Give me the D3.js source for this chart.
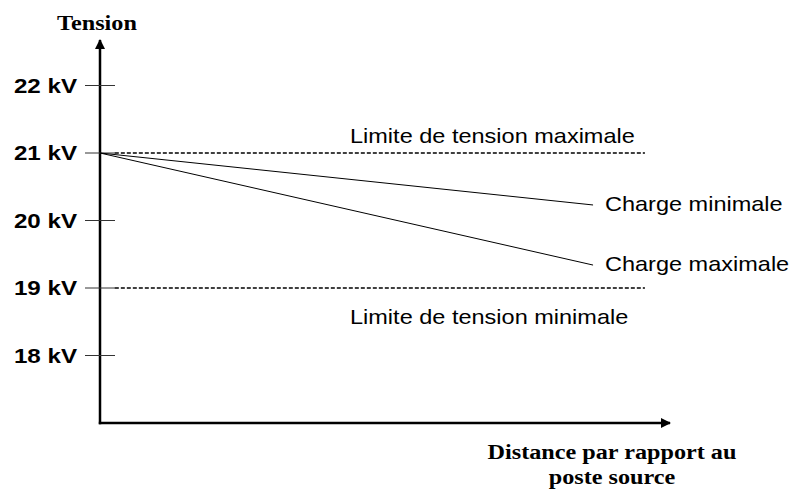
<!DOCTYPE html>
<html lang="fr">
<head>
<meta charset="utf-8">
<script src="https://d3js.org/d3.v7.min.js"></script>
<style>
  body { margin: 0; background: #fff; }
</style>
</head>
<body>
<script>
    // tension values (kV) shown on the vertical axis
    const tickValues = [18, 19, 20, 21, 22];
    const tickLabels = ["18 kV", "19 kV", "20 kV", "21 kV", "22 kV"];

    // limits (dashed lines)
    const limitNames = ["Limite de tension maximale", "Limite de tension minimale"];
    const limitValues = [21, 19];
    const limitStart = 2.6, limitEnd = 95.6;

    // voltage drop along the feeder (distance in % of drawn axis)
    const seriesNames = ["Charge minimale", "Charge maximale"];
    const distance = [0, 86.5];
    const chargeMin = [21, 20.23];
    const chargeMax = [21, 19.34];

    const width = 792, height = 490;
    const svg = d3.select("body").append("svg")
        .attr("width", width)
        .attr("height", height);

    const x = d3.scaleLinear().domain([0, 100]).range([100, 670]);
    const y = d3.scaleLinear().domain([18, 22]).range([355.5, 85.5]);

    const originY = 423;
    const sans = "Arial, 'Liberation Sans', sans-serif";
    const serif = "'Times New Roman', 'Liberation Serif', serif";

    // the original text is a bit wider than the font, so stretch it horizontally
    function label(g, px, py, txt, opts) {
        return g.append("text")
            .attr("transform", "translate(" + px + "," + py + ") scale(" + (opts.sx || 1.12) + ",1)")
            .attr("text-anchor", opts.anchor || "start")
            .attr("font-family", opts.family || sans)
            .attr("font-weight", opts.weight || "normal")
            .attr("font-size", opts.size || 21)
            .text(txt);
    }

    // arrow marker
    svg.append("defs").append("marker")
        .attr("id", "arrow")
        .attr("viewBox", "0 0 10 10")
        .attr("refX", 9).attr("refY", 5)
        .attr("markerWidth", 4).attr("markerHeight", 4)
        .attr("markerUnits", "strokeWidth")
        .attr("orient", "auto")
        .append("path")
        .attr("d", "M0,0 L10,5 L0,10 z")
        .attr("fill", "#000");

    // axes
    svg.append("line")
        .attr("x1", x(0)).attr("y1", originY + 1.2)
        .attr("x2", x(0)).attr("y2", 40)
        .attr("stroke", "#000").attr("stroke-width", 2.5)
        .attr("marker-end", "url(#arrow)");
    svg.append("line")
        .attr("x1", x(0) - 1.2).attr("y1", originY)
        .attr("x2", 670).attr("y2", originY)
        .attr("stroke", "#000").attr("stroke-width", 2.5)
        .attr("marker-end", "url(#arrow)");

    // y ticks
    const ticks = svg.append("g");
    ticks.selectAll("line")
        .data(tickValues)
        .enter()
        .append("line")
        .attr("x1", 85).attr("x2", 115)
        .attr("y1", d => y(d)).attr("y2", d => y(d))
        .attr("stroke", "#333").attr("stroke-width", 1);
    tickValues.forEach((d, i) => {
        label(ticks, 77, y(d) + 7, tickLabels[i], {anchor: "end", weight: "bold", sx: 1.15});
    });

    // limit lines
    svg.selectAll(".limit")
        .data(limitValues)
        .enter()
        .append("line")
        .attr("class", "limit")
        .attr("x1", x(limitStart)).attr("x2", x(limitEnd))
        .attr("y1", d => y(d)).attr("y2", d => y(d))
        .attr("stroke", "#000").attr("stroke-width", 1.5)
        .attr("stroke-dasharray", "4,2");

    label(svg, 350, y(limitValues[0]) - 10, limitNames[0], {});
    label(svg, 350, y(limitValues[1]) + 36, limitNames[1], {});

    // charge lines
    const line = d3.line()
        .x((d, i) => x(distance[i]))
        .y(d => y(d));
    [chargeMin, chargeMax].forEach((s, k) => {
        svg.append("path")
            .attr("d", line(s))
            .attr("fill", "none")
            .attr("stroke", "#000").attr("stroke-width", 1);
        label(svg, 605, y(s[s.length - 1]) + 6, seriesNames[k], {});
    });

    // axis titles
    const serifOpts = {anchor: "middle", family: serif, weight: "bold", size: 22, sx: 1.1};
    label(svg, 97, 30, "Tension", serifOpts);
    label(svg, 612, 459, "Distance par rapport au", serifOpts);
    label(svg, 612, 484, "poste source", serifOpts);
</script>
</body>
</html>
